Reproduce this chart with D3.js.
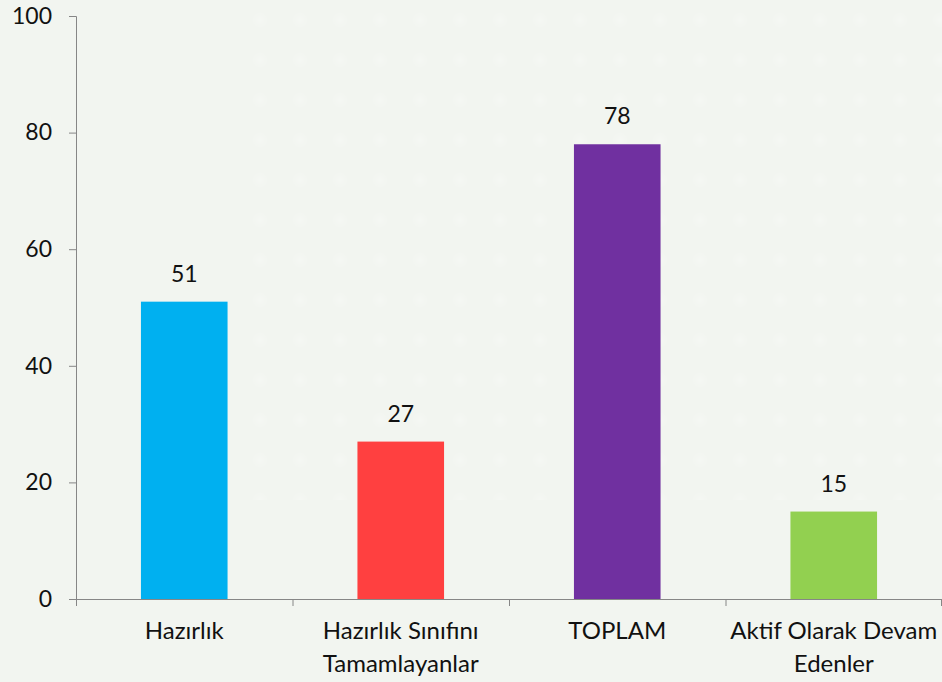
<!DOCTYPE html>
<html>
<head>
<meta charset="utf-8">
<script src="https://cdn.jsdelivr.net/npm/d3@7"></script>
<style>
  body { margin: 0; background: #f2f5f0; }
  text { font-family: Lato, "Noto Sans", sans-serif; fill: #111; }
</style>
</head>
<body>
<script>
let categories = [["Hazırlık"], ["Hazırlık Sınıfını", "Tamamlayanlar"], ["TOPLAM"], ["Aktif Olarak Devam", "Edenler"]];
let values = [51, 27, 78, 15];
let colors = ["#00b0f0", "#ff4040", "#7030a0", "#92d050"];
let yTicks = [0, 20, 40, 60, 80, 100];

let width = 942, height = 682;
let svg = d3.select("body").append("svg")
	.attr("width", width)
	.attr("height", height);

// faint dotted backdrop
let defs = svg.append("defs");
let grad = defs.append("radialGradient").attr("id", "dot");
grad.append("stop").attr("offset", "0%").attr("stop-color", "#ffffff").attr("stop-opacity", 0.7);
grad.append("stop").attr("offset", "100%").attr("stop-color", "#ffffff").attr("stop-opacity", 0);
let pat = defs.append("pattern").attr("id", "dots")
	.attr("patternUnits", "userSpaceOnUse")
	.attr("width", 40).attr("height", 40);
pat.append("circle").attr("cx", 20).attr("cy", 20).attr("r", 9).attr("fill", "url(#dot)");
svg.append("rect").attr("width", width).attr("height", height).attr("fill", "#f2f5f0");
svg.append("rect").attr("x", 240).attr("y", 0).attr("width", 702).attr("height", 500)
	.attr("fill", "url(#dots)").attr("opacity", 0.3);

let x0 = 76, x1 = 942, yTop = 16, yBot = 599;
let font = 23;

let x = d3.scaleBand()
	.domain(d3.range(values.length))
	.range([x0, x1])
	.padding(0);

let y = d3.scaleLinear()
	.domain([0, 100])
	.range([yBot, yTop]);

let barW = x.bandwidth() * 0.4;

// bars
svg.selectAll(".bar")
	.data(values)
	.enter()
	.append("rect")
	.attr("class", "bar")
	.attr("x", (d, i) => x(i) + x.bandwidth() / 2 - barW / 2)
	.attr("y", d => y(d))
	.attr("width", barW)
	.attr("height", d => y(0) - y(d))
	.attr("fill", (d, i) => colors[i]);

// value labels
svg.selectAll(".val")
	.data(values)
	.enter()
	.append("text")
	.attr("class", "val")
	.attr("x", (d, i) => x(i) + x.bandwidth() / 2)
	.attr("y", d => y(d) - 20)
	.attr("text-anchor", "middle")
	.attr("font-size", font)
	.text(d => d);

// y axis
let yAxis = svg.append("g")
	.attr("transform", "translate(" + x0 + ",0)")
	.call(d3.axisLeft(y).tickValues(yTicks).tickSize(7).tickPadding(17));
yAxis.selectAll("text").attr("font-size", font).style("font-family", "Lato, 'Noto Sans', sans-serif").attr("fill", "#111");
yAxis.selectAll("line, path").attr("stroke", "#868686");

// x axis line + ticks on band edges
let edges = d3.range(values.length + 1).map(i => i < values.length ? x(i) : x1);
svg.append("line")
	.attr("x1", x0).attr("x2", x1)
	.attr("y1", yBot + 0.5).attr("y2", yBot + 0.5)
	.attr("stroke", "#868686");
svg.selectAll(".xt")
	.data(edges)
	.enter()
	.append("line")
	.attr("x1", d => Math.min(d, x1 - 1) + 0.5).attr("x2", d => Math.min(d, x1 - 1) + 0.5)
	.attr("y1", yBot).attr("y2", yBot + 7)
	.attr("stroke", "#868686");

// category labels
let cat = svg.selectAll(".cat")
	.data(categories)
	.enter()
	.append("text")
	.attr("class", "cat")
	.attr("text-anchor", "middle")
	.attr("font-size", 24)
	.attr("transform", (d, i) => "translate(" + (x(i) + x.bandwidth() / 2) + "," + 639 + ")");
cat.selectAll("tspan")
	.data(d => d)
	.enter()
	.append("tspan")
	.attr("x", 0)
	.attr("dy", (d, j) => j === 0 ? 0 : 33)
	.text(d => d);
</script>
</body>
</html>
